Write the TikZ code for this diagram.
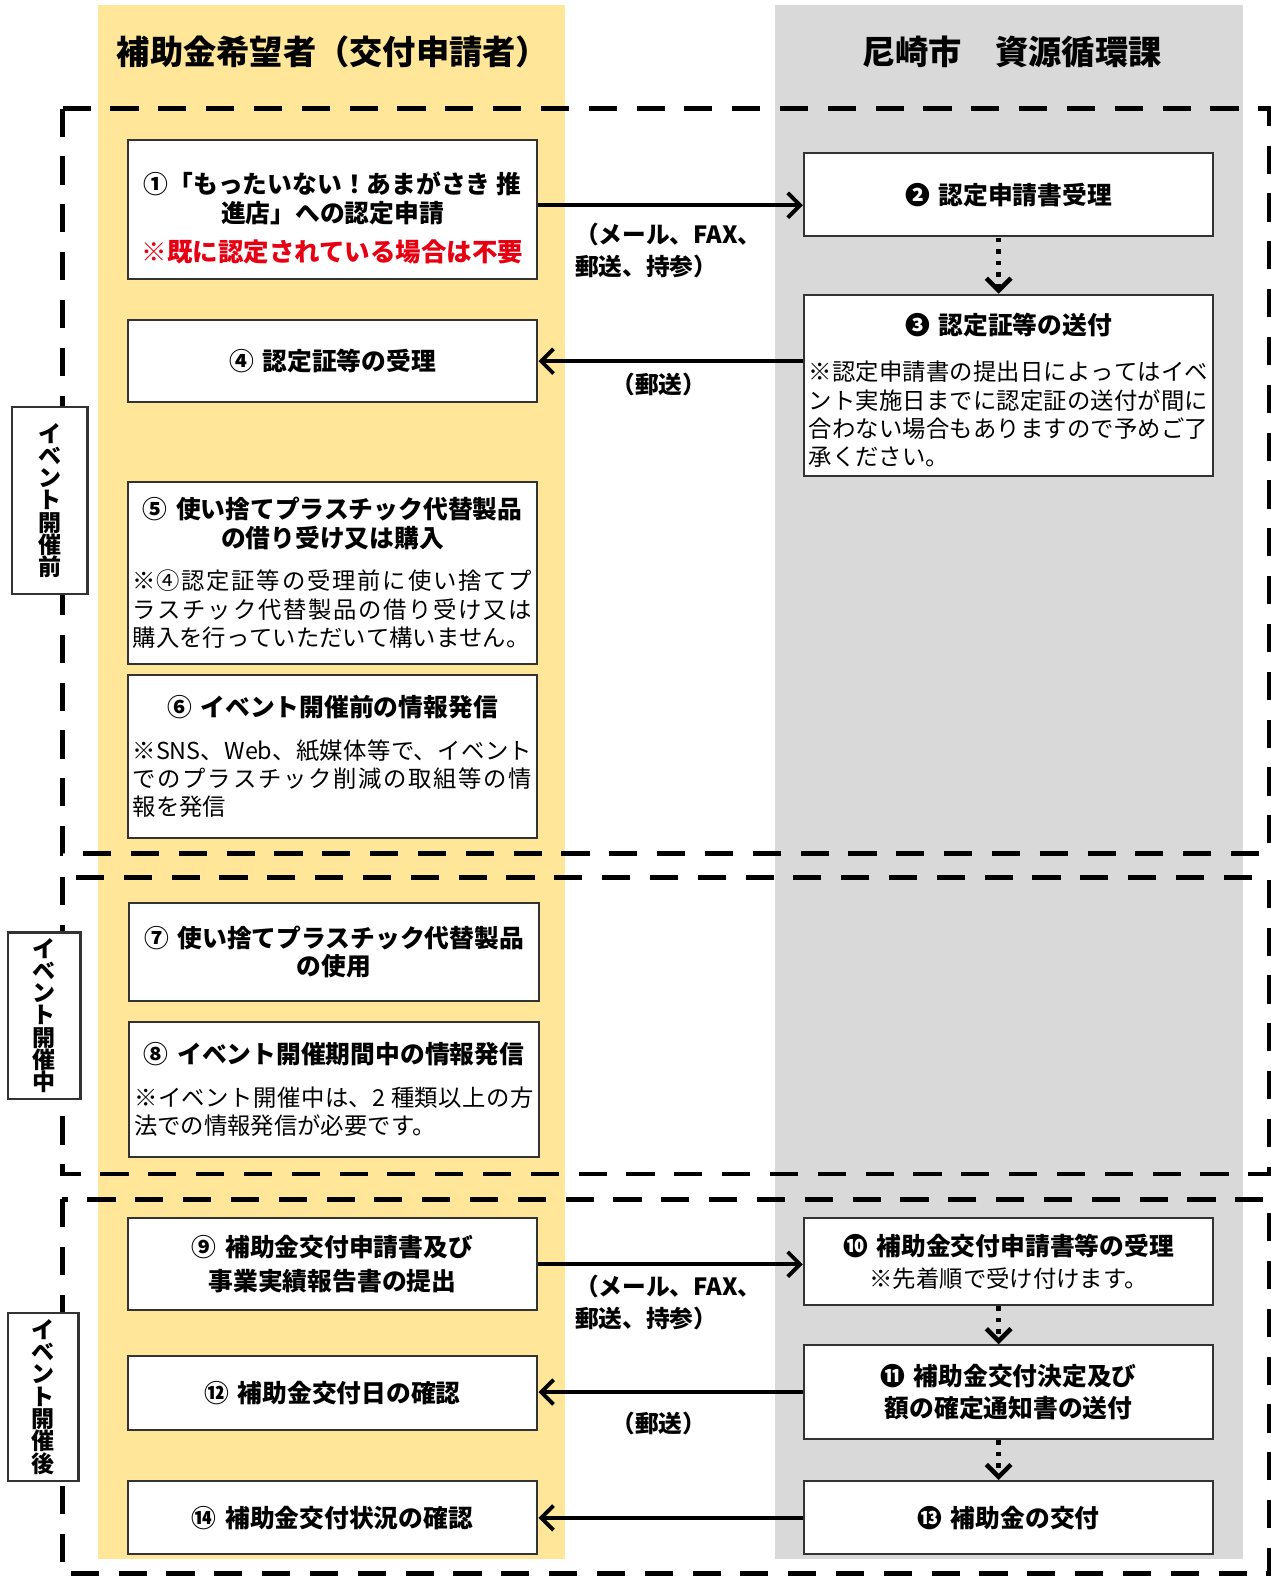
\documentclass[tikz,border=0pt]{standalone}
\usepackage{fontspec}
\setmainfont{Noto Sans CJK JP}
\XeTeXlinebreaklocale "ja"
\XeTeXlinebreakskip=0pt plus 1pt
\usetikzlibrary{positioning, arrows.meta}
\definecolor{applicantyellow}{RGB}{255,230,153}
\definecolor{cityofficegray}{RGB}{217,217,217}
\definecolor{noticered}{RGB}{230,0,18}
\newcommand{\titlefont}{\fontsize{7pt}{8pt}\selectfont\bfseries}
\newcommand{\notefont}{\fontsize{6.6pt}{8pt}\selectfont\mdseries}
\newcommand{\noteblock}[1]{\parbox[t]{3.97cm}{\notefont #1}}

\begin{document}
\begin{tikzpicture}[x=0.01cm, y=-0.01cm, scale=1.006, transform shape, >={Straight Barb[length=3.5pt,width=7pt]}]
        \tikzstyle{stepbox}=[draw=black!80, line width=0.6pt, fill=white, minimum width=4.07cm, inner sep=1pt, align=center, font=\titlefont]
        \tikzstyle{phaseframe}=[line width=1.4pt, dash pattern=on 8pt off 5.6pt]
        \tikzstyle{phasetag}=[draw=black!80, line width=0.6pt, fill=white, inner sep=0pt, align=center, font={\fontsize{6.5pt}{6.3pt}\selectfont\bfseries\lineskiplimit=-4pt}]
        \tikzstyle{flow}=[->, line width=1.1pt]
        \tikzstyle{relay}=[->, dotted, line width=1.3pt]
        \tikzstyle{via}=[align=left, inner sep=0pt, font=\fontsize{6.7pt}{9pt}\selectfont\bfseries]

        \useasboundingbox (0,0) rectangle (1263.42,1567.59);

        % Swimlanes
        \fill[applicantyellow] (97,5) rectangle (562,1550);
        \fill[cityofficegray] (770,5) rectangle (1236,1550);
        \node[font=\fontsize{9.4pt}{11pt}\selectfont\bfseries] (applicant) at (331,52) {補助金希望者（交付申請者）};
        \node[font=\fontsize{9.4pt}{11pt}\selectfont\bfseries] (city) at (1006,52) {尼崎市　資源循環課};

        % Phase frames
        \draw[phaseframe] (62,108) rectangle (1261.5,848);
        \draw[phaseframe] (62,872) rectangle (1261.5,1167);
        \draw[phaseframe] (62,1192) rectangle (1261.5,1564);

        % Before the event
        \node[stepbox, minimum height=1.38cm] (s1) at (330.5,208) {\rule{0pt}{11pt}①「もったいない！あまがさき 推\\進店」への認定申請\\[3pt]{\color{noticered}\fontsize{7.2pt}{8pt}\selectfont ※既に認定されている場合は不要}};
        \node[stepbox, minimum height=0.83cm] (s2) at (1002.5,193.5) {❷\hspace{0.35em}認定申請書受理};
        \node[stepbox, minimum height=1.80cm] (s3) at (1002.5,383) {\rule{0pt}{9pt}❸\hspace{0.35em}認定証等の送付\\[5pt]\noteblock{※認定申請書の提出日によってはイベ\linebreak ント実施日までに認定証の送付が間に\linebreak 合わない場合もありますので予めご了\linebreak 承ください。}};
        \node[stepbox, minimum height=0.82cm] (s4) at (330.5,359) {④\hspace{0.35em}認定証等の受理};
        \node[stepbox, minimum height=1.81cm] (s5) at (330.5,569.5) {⑤\hspace{0.35em}使い捨てプラスチック代替製品\\の借り受け又は購入\\[4pt]\noteblock{※④認定証等の受理前に使い捨てプ\linebreak ラスチック代替製品の借り受け又は\linebreak 購入を行っていただいて構いません。}};
        \node[stepbox, minimum height=1.62cm] (s6) at (330.5,752) {⑥\hspace{0.35em}イベント開催前の情報発信\\[4pt]\noteblock{※SNS、Web、紙媒体等で、イベント\linebreak でのプラスチック削減の取組等の情\linebreak 報を発信}};

        % During the event
        \node[stepbox, minimum height=0.97cm] (s7) at (332,946.5) {⑦\hspace{0.35em}使い捨てプラスチック代替製品\\の使用};
        \node[stepbox, minimum height=1.34cm] (s8) at (332,1083) {⑧\hspace{0.35em}イベント開催期間中の情報発信\\[4pt]\noteblock{※イベント開催中は、2 種類以上の方\linebreak 法での情報発信が必要です。}};

        % After the event
        \node[stepbox, minimum height=0.91cm] (s9) at (330.5,1256.5) {⑨\hspace{0.35em}補助金交付申請書及び\\[1.4pt]事業実績報告書の提出};
        \node[stepbox, minimum height=0.86cm] (s10) at (1002.5,1254) {❿\hspace{0.35em}補助金交付申請書等の受理\\[1pt]{\notefont ※先着順で受け付けます。}};
        \node[stepbox, minimum height=0.93cm] (s11) at (1002.5,1383.5) {⓫\hspace{0.35em}補助金交付決定及び\\[1pt]額の確定通知書の送付};
        \node[stepbox, minimum height=0.73cm] (s12) at (330.5,1384.5) {⑫\hspace{0.35em}補助金交付日の確認};
        \node[stepbox, minimum height=0.73cm] (s13) at (1002.5,1508.5) {⓭\hspace{0.35em}補助金の交付};
        \node[stepbox, minimum height=0.73cm] (s14) at (330.5,1508.5) {⑭\hspace{0.35em}補助金交付状況の確認};

        % Phase tags
        \node[phasetag, minimum width=0.75cm, minimum height=1.85cm] (before) at (49.5,497.5) {イ\\ベ\\ン\\ト\\開\\催\\前};
        \node[phasetag, minimum width=0.72cm, minimum height=1.65cm] (during) at (44,1009.5) {イ\\ベ\\ン\\ト\\開\\催\\中};
        \node[phasetag, minimum width=0.70cm, minimum height=1.67cm] (after) at (43,1388.5) {イ\\ベ\\ン\\ト\\開\\催\\後};

        % Sending routes
        \draw[flow] (s1.east |- 0,204) -- (s2.west |- 0,204);
        \draw[flow] (s3.west |- s4.east) -- (s4.east);
        \draw[flow] (s9.east) -- (s9.east -| s10.west);
        \draw[flow] (s11.west) -- (s11.west -| s12.east);
        \draw[flow] (s13.west) -- (s13.west -| s14.east);
        \draw[relay] ([xshift=-1mm]s2.south) -- ([xshift=-1mm]s3.north);
        \draw[relay] ([xshift=-1mm]s10.south) -- ([xshift=-1mm]s11.north);
        \draw[relay] ([xshift=-1mm]s11.south) -- ([xshift=-1mm]s13.north);

        % Route labels
        \node[via, anchor=west] (mail1) at (571,249) {（メール、FAX、\\郵送、持参）};
        \node[via] (post1) at (655,382) {（郵送）};
        \node[via, anchor=west] (mail2) at (571,1295) {（メール、FAX、\\郵送、持参）};
        \node[via] (post2) at (655,1415) {（郵送）};
\end{tikzpicture}
\end{document}
